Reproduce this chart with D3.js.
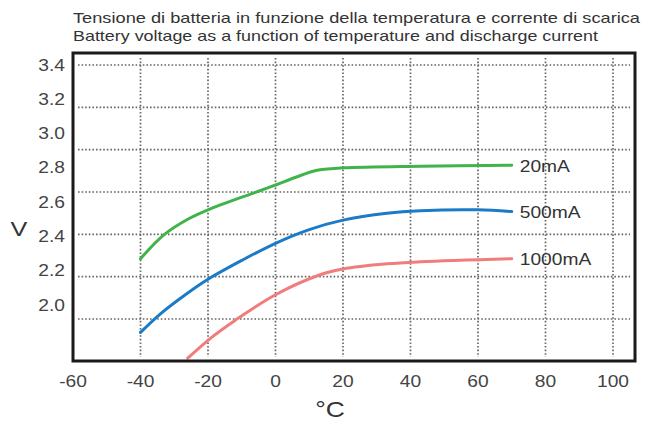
<!DOCTYPE html>
<html>
<head>
<meta charset="utf-8">
<script src="https://cdn.jsdelivr.net/npm/d3@7"></script>
<style>
  body { margin: 0; background: #fff; }
  text { font-family: "Liberation Sans", Arial, sans-serif; }
</style>
</head>
<body>
<div id="plot"></div>
<script>
// data
const temps20 = [-40, -33, -26, -20, -7, 0, 6, 12, 20, 43, 70];
const volts20 = [2.27, 2.41, 2.50, 2.555, 2.65, 2.70, 2.745, 2.785, 2.80, 2.81, 2.815];
const temps500 = [-40, -34, -26, -20, -10, 0, 10, 20, 33, 43, 60, 70];
const volts500 = [1.84, 1.95, 2.07, 2.15, 2.26, 2.36, 2.44, 2.495, 2.535, 2.55, 2.555, 2.545];
const temps1000 = [-26, -19, -12, 0, 13, 20, 33, 43, 70];
const volts1000 = [1.69, 1.81, 1.91, 2.06, 2.175, 2.21, 2.24, 2.252, 2.27];
const seriesNames = ["20mA", "500mA", "1000mA"];
const seriesColors = ["#41b34b", "#1c7bc6", "#f07c7c"];

const xTicks = [-60, -40, -20, 0, 20, 40, 60, 80, 100];
const xGrid = [-40, -20, 0, 20, 40, 60, 80, 100];
const yTicks = [3.4, 3.2, 3.0, 2.8, 2.6, 2.4, 2.2, 2.0];
const gridRows = [0, 1, 2, 3, 4, 5, 6];

const titleLines = [
  "Tensione di batteria in funzione della temperatura e corrente di scarica",
  "Battery voltage as a function of temperature and discharge current"
];

const width = 653, height = 426;
const box = { left: 73, right: 635, top: 53, bottom: 361 };

const x = d3.scaleLinear().domain([-60, 100]).range([73, 613]);
const y = d3.scaleLinear().domain([2.0, 3.4]).range([305, 65]);
// the grid rows in the original are spaced apart from the labels
const gridY = d3.scaleLinear().domain([0, 6]).range([65, 319]);

const svg = d3.select("#plot").append("svg").attr("width", width).attr("height", height);

// stretched text helper (the source picture is wider than normal type)
const stretch = 1.2;
function label(g, txt, px, py, size, anchor, fill) {
  return g.append("text")
    .attr("transform", `translate(${px},${py}) scale(${stretch},1)`)
    .attr("text-anchor", anchor)
    .attr("dy", "0.35em")
    .attr("font-size", size)
    .attr("fill", fill)
    .text(txt);
}

// title
svg.selectAll(".title").data(titleLines).join("text")
  .attr("class", "title")
  .attr("x", 73)
  .attr("y", (d, i) => 23 + i * 18)
  .attr("font-size", 15)
  .attr("fill", "#333")
  .attr("textLength", (d, i) => i === 0 ? 567 : 525)
  .attr("lengthAdjust", "spacingAndGlyphs")
  .text(d => d);

// grid
const grid = svg.append("g").attr("stroke", "#666").attr("stroke-width", 1.7).attr("stroke-dasharray", "1.6,2");
grid.selectAll(".h").data(gridRows).join("line")
  .attr("x1", 78).attr("x2", 630)
  .attr("y1", d => gridY(d)).attr("y2", d => gridY(d));
grid.selectAll(".v").data(xGrid).join("line")
  .attr("x1", d => x(d)).attr("x2", d => x(d))
  .attr("y1", 58).attr("y2", 357);

// curves
const line = d3.line().x(d => x(d[0])).y(d => y(d[1])).curve(d3.curveCatmullRom.alpha(0.5));
const series = [
  d3.zip(temps20, volts20),
  d3.zip(temps500, volts500),
  d3.zip(temps1000, volts1000)
];
svg.append("g").selectAll("path").data(series).join("path")
  .attr("d", line)
  .attr("fill", "none")
  .attr("stroke", (d, i) => seriesColors[i])
  .attr("stroke-width", 3)
  .attr("stroke-linecap", "round");

// series labels at line ends
const lab = svg.append("g");
series.forEach((s, i) => {
  const last = s[s.length - 1];
  label(lab, seriesNames[i], x(last[0]) + 8, y(last[1]) + 1, 16, "start", "#333");
});

// frame
svg.append("rect")
  .attr("x", box.left).attr("y", box.top)
  .attr("width", box.right - box.left).attr("height", box.bottom - box.top)
  .attr("fill", "none").attr("stroke", "#1a1a1a").attr("stroke-width", 3);

// axis labels
const ax = svg.append("g");
yTicks.forEach(v => label(ax, v.toFixed(1), 65, y(v), 16, "end", "#444"));
xTicks.forEach(v => label(ax, String(v), x(v), 381, 16, "middle", "#444"));
label(ax, "V", 19, 229, 21, "middle", "#333");
label(ax, "°C", 330, 409, 22, "middle", "#333");
</script>
</body>
</html>
